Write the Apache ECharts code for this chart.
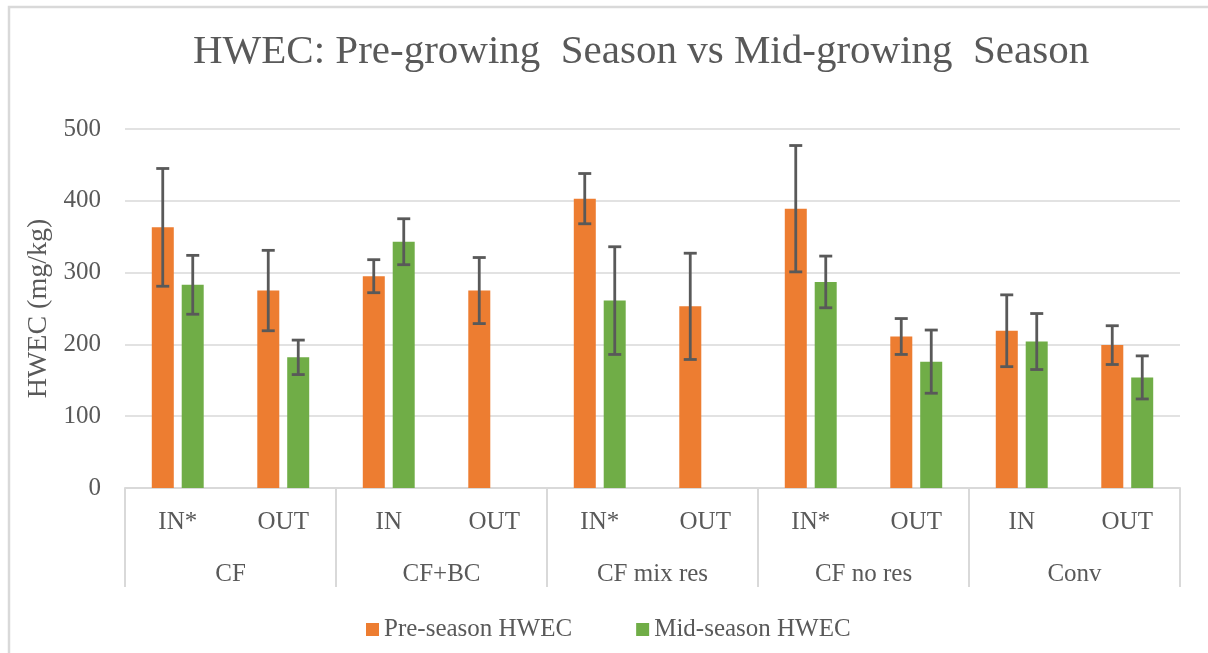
<!DOCTYPE html>
<html>
<head>
<meta charset="utf-8">
<script src="https://cdn.jsdelivr.net/npm/echarts@6/dist/echarts.min.js"></script>
<style>
    html, body { margin:0; padding:0; background:#fff; }
    #chart { width:1208px; height:653px; }
</style>
</head>
<body>
<div id="chart"></div>
<script>
    // 数据
    var innerLabels = ['IN*', 'OUT', 'IN', 'OUT', 'IN*', 'OUT', 'IN*', 'OUT', 'IN', 'OUT'];
    var groupLabels = ['CF', 'CF+BC', 'CF mix res', 'CF no res', 'Conv'];
    var preVals = [363, 275, 295, 275, 403, 253, 389, 211, 219, 199];
    var preErr  = [82, 56, 23, 46, 35, 74, 88, 25, 50, 27];
    var midVals = [283, 182, 343, null, 261, null, 287, 176, 204, 154];
    var midErr  = [41, 24, 32, null, 75, null, 36, 44, 39, 30];
    var yTicks = [0, 100, 200, 300, 400, 500];

    var txt = '#595959';
    var lineC = '#d9d9d9';
    var font = '"Liberation Serif", "Times New Roman", serif';

    function errData(vals, errs){
        var out = [];
        for (var i = 0; i < vals.length; i++) {
            if (vals[i] == null) continue;
            out.push([i, vals[i] - errs[i], vals[i] + errs[i]]);
        }
        return out;
    }

    //误差线
    function errRender(offset){
        return function(params, api){
            var x = api.value(0);
            var lo = api.coord([x, api.value(1)]);
            var hi = api.coord([x, api.value(2)]);
            var cx = lo[0] + offset;
            var cap = 6.5;
            var st = { stroke:'#595959', lineWidth:2.8 };
            return {
                type:'group',
                children:[
                    { type:'line', shape:{ x1:cx, y1:lo[1], x2:cx, y2:hi[1] }, style:st },
                    { type:'line', shape:{ x1:cx - cap, y1:lo[1], x2:cx + cap, y2:lo[1] }, style:st },
                    { type:'line', shape:{ x1:cx - cap, y1:hi[1], x2:cx + cap, y2:hi[1] }, style:st }
                ]
            };
        };
    }

    var chart = echarts.init(document.getElementById('chart'));
    var option = {
        backgroundColor:'#fff',
        animation:false,
        textStyle:{ fontFamily:font },
        graphic:[{
            type:'rect',
            shape:{ x:9, y:7, width:1230, height:700 },
            style:{ fill:'none', stroke:lineC, lineWidth:2.5 },
            silent:true
        }],
        title:{
            text:'HWEC: Pre-growing  Season vs Mid-growing  Season',
            left:188,
            top:27,
            textStyle:{ fontFamily:font, fontSize:41, fontWeight:'normal', color:txt }
        },
        legend:{
            left:361,
            top:612,
            itemWidth:13,
            itemHeight:13,
            itemGap:64,
            icon:'rect',
            textStyle:{ fontFamily:font, fontSize:25, color:txt },
            data:['Pre-season HWEC', 'Mid-season HWEC']
        },
        grid:{ left:125, right:28, top:129, bottom:165, containLabel:false },
        xAxis:[{
            type:'category',
            data:innerLabels,
            axisLine:{ show:true, lineStyle:{ color:lineC, width:2 } },
            axisTick:{ show:false },
            axisLabel:{ fontFamily:font, fontSize:25, color:txt, margin:22, interval:0 }
        }, {
            type:'category',
            data:groupLabels,
            position:'bottom',
            axisLine:{ show:false },
            axisTick:{ show:true, length:99, interval:0, lineStyle:{ color:lineC, width:2 } },
            axisLabel:{ fontFamily:font, fontSize:25, color:txt, margin:74, interval:0 }
        }],
        yAxis:{
            type:'value',
            min:yTicks[0],
            max:yTicks[yTicks.length - 1],
            interval:100,
            name:'HWEC (mg/kg)',
            nameLocation:'middle',
            nameGap:72,
            nameTextStyle:{ fontFamily:font, fontSize:28, color:txt },
            axisLine:{ show:false },
            axisTick:{ show:false },
            axisLabel:{ fontFamily:font, fontSize:25, color:txt, margin:24 },
            splitLine:{ lineStyle:{ color:lineC, width:1.5 } }
        },
        series:[{
            name:'Pre-season HWEC',
            type:'bar',
            xAxisIndex:0,
            barWidth:22,
            barGap:'36%',
            itemStyle:{ color:'#ED7D31' },
            data:preVals
        }, {
            name:'Mid-season HWEC',
            type:'bar',
            xAxisIndex:0,
            barWidth:22,
            barGap:'36%',
            itemStyle:{ color:'#70AD47' },
            data:midVals
        }, {
            type:'custom',
            xAxisIndex:0,
            renderItem:errRender(-15),
            encode:{ x:0, y:[1, 2] },
            data:errData(preVals, preErr),
            z:10
        }, {
            type:'custom',
            xAxisIndex:0,
            renderItem:errRender(15),
            encode:{ x:0, y:[1, 2] },
            data:errData(midVals, midErr),
            z:10
        }]
    };
    chart.setOption(option);
</script>
</body>
</html>
